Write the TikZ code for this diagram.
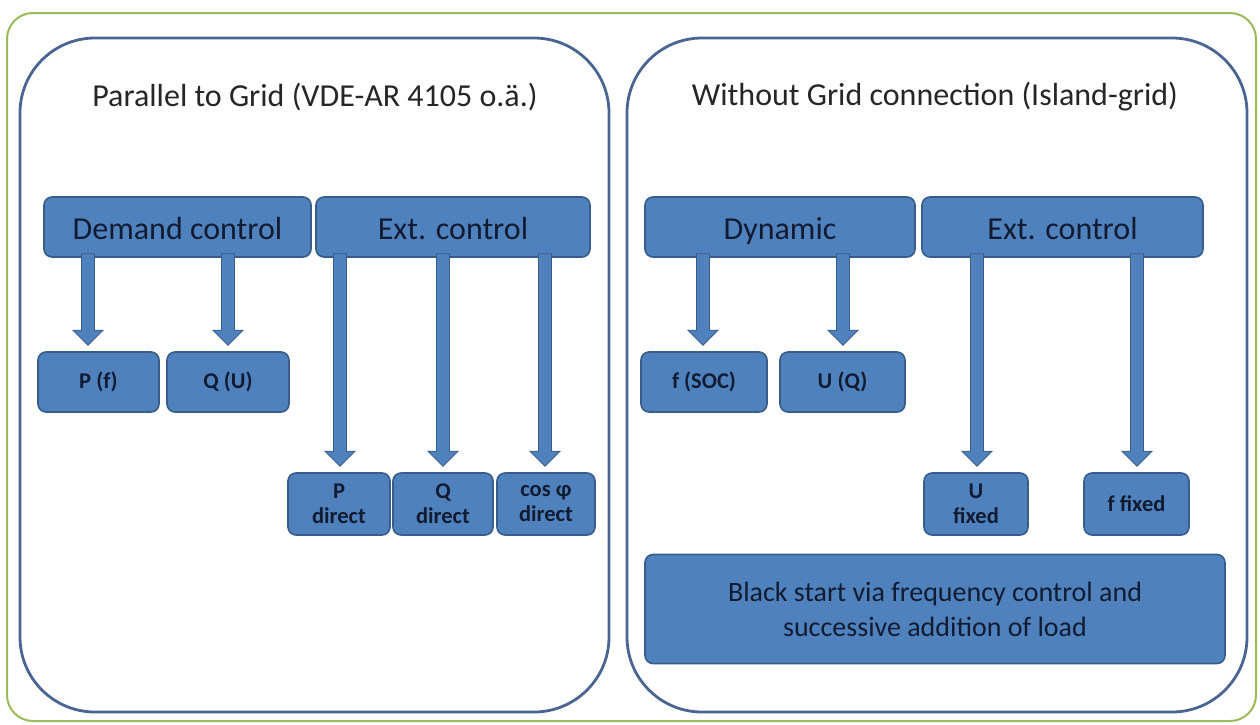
\documentclass[tikz,border=0pt]{standalone}
\usepackage{fontspec}
\setmainfont{Carlito}
\usetikzlibrary{calc}
\definecolor{boxfill}{HTML}{4F81BD}
\definecolor{boxline}{HTML}{385D8A}
\definecolor{panelline}{HTML}{4A6591}
\definecolor{greenline}{HTML}{9BBB59}
\definecolor{boxtext}{HTML}{111C33}
\definecolor{titletext}{HTML}{262626}
\tikzset{
  panel/.style={draw=panelline, line width=2.8pt, rounded corners=75pt},
  bigbox/.style={draw=boxline, line width=1.6pt, fill=boxfill, rounded corners=8pt,
    inner sep=0pt, text=boxtext, font=\fontsize{32}{36}\selectfont,
    text height=27pt, text depth=2pt},
  smallbox/.style={draw=boxline, line width=1.6pt, fill=boxfill, rounded corners=8pt,
    inner sep=0pt, minimum height=60pt, text=boxtext, align=center,
    font=\bfseries\fontsize{22.5}{25}\selectfont},
  blockarrow/.style={fill=boxfill, draw=boxline, line width=0.8pt, line join=miter},
  titlestyle/.style={text=titletext, font=\fontsize{32}{36}\selectfont, inner sep=0pt}
}
\newcommand{\blockarr}[3]{%
  \draw[blockarrow] let \p1=(#1.south), \p2=(#2.north) in
    ({#3pt-6.5pt},{\y1+4pt}) -- ({#3pt+6.5pt},{\y1+4pt}) -- ({#3pt+6.5pt},{\y2+21pt})
    -- ({#3pt+15pt},{\y2+21pt}) -- ({#3pt},{\y2+6pt}) -- ({#3pt-15pt},{\y2+21pt})
    -- ({#3pt-6.5pt},{\y2+21pt}) -- cycle;}
\begin{document}
\begin{tikzpicture}[x=1pt,y=-1pt]
\useasboundingbox (0,0) rectangle (1260,724);
\fill[white] (0,0) rectangle (1260,724);
% outer frame
\draw[greenline, line width=2pt, rounded corners=26pt] (7,13) rectangle (1256,721);
% panels
\draw[panel] (20,38) rectangle (609,712);
\draw[panel] (627,38) rectangle (1247,712);
\node[titlestyle] (t1) at (315,97) {Parallel to Grid (VDE-AR 4105 o.ä.)};
\node[titlestyle] (t2) at (935,97) {Without Grid connection (Island-grid)};
% boxes
\node[bigbox, minimum width=267pt, minimum height=60pt] (dc) at (177.5,227) {Demand control};
\node[bigbox, minimum width=274pt, minimum height=60pt] (ecl) at (453,227) {Ext. control};
\node[smallbox, minimum width=121pt] (pf) at (98.5,382) {P (f)};
\node[smallbox, minimum width=122pt] (qu) at (228,382) {Q (U)};
\node[smallbox, minimum width=102pt, minimum height=62pt] (pd) at (339,504) {P\\direct};
\node[smallbox, minimum width=100pt, minimum height=62pt] (qd) at (443,504) {Q\\direct};
\node[smallbox, minimum width=98pt, minimum height=62pt] (cd) at (546,504) {cos φ\\direct};
\node[bigbox, minimum width=270pt, minimum height=60pt] (dyn) at (780,227) {Dynamic};
\node[bigbox, minimum width=281pt, minimum height=60pt] (ecr) at (1062.5,227) {Ext. control};
\node[smallbox, minimum width=126pt] (soc) at (704,382) {f (SOC)};
\node[smallbox, minimum width=125pt] (uq) at (842.5,382) {U (Q)};
\node[smallbox, minimum width=104pt, minimum height=62pt] (uf) at (976,504) {U\\fixed};
\node[smallbox, minimum width=105pt, minimum height=62pt] (ff) at (1136.5,504) {f fixed};
\node[bigbox, minimum width=580pt, minimum height=109pt, align=center,
  text height=, text depth=,
  font=\fontsize{28}{35}\selectfont] (bs) at (935,609)
  {Black start via frequency control and\\successive addition of load};
% arrows
\blockarr{dc}{pf}{88}
\blockarr{dc}{qu}{228}
\blockarr{ecl}{pd}{340}
\blockarr{ecl}{qd}{443}
\blockarr{ecl}{cd}{545}
\blockarr{dyn}{soc}{703}
\blockarr{dyn}{uq}{843}
\blockarr{ecr}{uf}{977}
\blockarr{ecr}{ff}{1137}
\end{tikzpicture}
\end{document}
